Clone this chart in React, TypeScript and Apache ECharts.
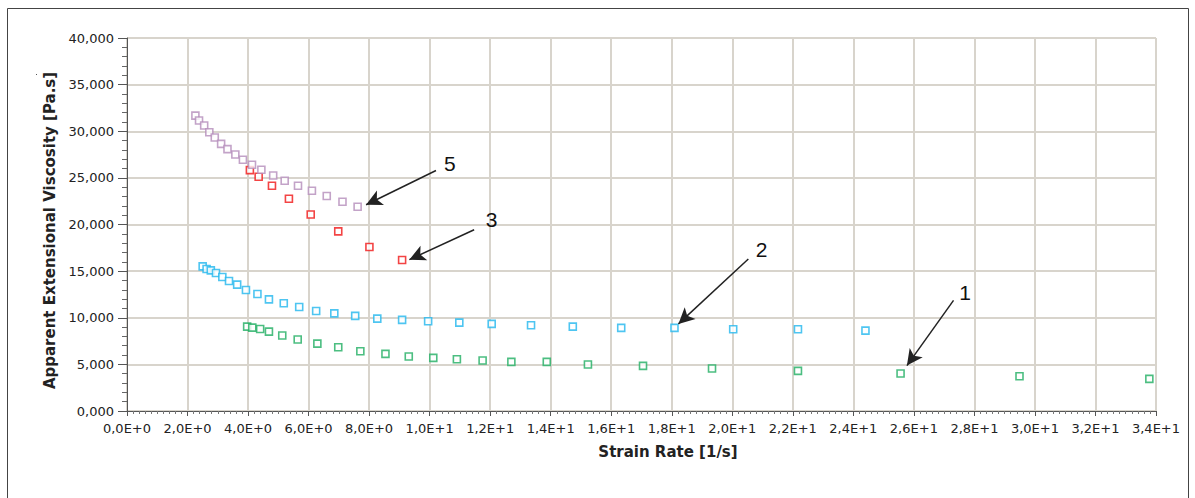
import React, { useEffect, useRef } from "react";
import * as echarts from "echarts";

// Tick labels
const xTickLabels = ["0,0E+0","2,0E+0","4,0E+0","6,0E+0","8,0E+0","1,0E+1","1,2E+1","1,4E+1","1,6E+1","1,8E+1","2,0E+1","2,2E+1","2,4E+1","2,6E+1","2,8E+1","3,0E+1","3,2E+1","3,4E+1"];
const yTickLabels = ["0,000","5,000","10,000","15,000","20,000","25,000","30,000","35,000","40,000"];

// Series 1 (green)
const s1x = [3.97,4.14,4.40,4.69,5.13,5.64,6.29,6.98,7.71,8.54,9.31,10.12,10.90,11.75,12.70,13.87,15.23,17.05,19.33,22.17,25.56,29.49,33.78];
const s1y = [9050,8940,8800,8510,8090,7660,7230,6830,6400,6130,5840,5700,5550,5410,5270,5270,4980,4840,4550,4300,4020,3730,3450];

// Series 2 (blue)
const s2x = [2.50,2.63,2.77,2.94,3.15,3.37,3.64,3.93,4.31,4.69,5.18,5.69,6.25,6.85,7.54,8.27,9.09,9.95,10.98,12.05,13.35,14.73,16.33,18.09,20.03,22.17,24.40];
const s2y = [15510,15230,15080,14800,14370,13940,13550,12980,12550,11970,11550,11160,10730,10470,10200,9910,9770,9620,9480,9340,9190,9050,8910,8910,8760,8760,8620];

// Series 3 (red)
const s3x = [4.06,4.35,4.79,5.35,6.07,6.98,8.01,9.09];
const s3y = [25830,25120,24150,22760,21080,19260,17590,16190];

// Series 5 (purple)
const s5x = [2.26,2.38,2.55,2.72,2.90,3.11,3.32,3.58,3.83,4.13,4.44,4.83,5.21,5.65,6.11,6.60,7.12,7.62];
const s5y = [31680,31150,30610,29900,29330,28650,28080,27500,26940,26400,25870,25260,24690,24150,23620,23050,22440,21900];

// Annotations: [label, labelX, labelY, fromX, fromY, toX, toY]
const ann1 = ["1", 27.69, 12720, 27.31, 11870, 25.77, 4870];
const ann2 = ["2", 20.97, 17300, 20.53, 16300, 18.22, 9340];
const ann3 = ["3", 12.05, 20510, 11.47, 19440, 9.33, 16230];
const ann5 = ["5", 10.67, 26510, 10.21, 25790, 7.90, 22120];

const zip = (xs: number[], ys: number[]) => xs.map((x, i) => [x, ys[i]]);

function makeSeries(name: string, color: string, xs: number[], ys: number[], ann: any[]) {
  return {
    name,
    type: "scatter",
    symbol: "rect",
    symbolSize: 7,
    itemStyle: { color: "#ffffff", borderColor: color, borderWidth: 1.6 },
    data: zip(xs, ys),
    z: 3,
    markLine: {
      silent: true,
      symbol: ["none", "arrow"],
      symbolSize: [12, 16],
      animation: false,
      label: { show: false },
      lineStyle: { color: "#222222", width: 1.5, type: "solid" },
      data: [[{ coord: [ann[3], ann[4]] }, { coord: [ann[5], ann[6]] }]],
    },
    markPoint: {
      silent: true,
      symbol: "circle",
      symbolSize: 1,
      itemStyle: { color: "rgba(0,0,0,0)" },
      label: {
        show: true,
        position: "inside",
        formatter: ann[0],
        color: "#111111",
        fontSize: 21,
        fontFamily: "Liberation Sans, Arial, sans-serif",
      },
      data: [{ coord: [ann[1], ann[2]] }],
    },
  };
}

export default function App() {
  const ref = useRef<HTMLDivElement>(null);
  useEffect(() => {
    if (!ref.current) return;
    const chart = echarts.init(ref.current, undefined, { renderer: "svg" });
    const font = "DejaVu Sans, Verdana, sans-serif";
    chart.setOption({
      animation: false,
      backgroundColor: "#ffffff",
      grid: { left: 127, top: 38, right: 39, bottom: 87, show: true, borderColor: "#666666", borderWidth: 1 },
      xAxis: {
        type: "value",
        min: 0,
        max: 34,
        interval: 2,
        name: "Strain Rate [1/s]",
        nameLocation: "middle",
        nameGap: 33,
        nameTextStyle: { fontFamily: font, fontSize: 15, fontWeight: "bold", color: "#222", padding: [0, 0, 0, 53] },
        axisLine: { show: true, lineStyle: { color: "#555555", width: 1 } },
        axisTick: { show: true, inside: false, length: 5, lineStyle: { color: "#555" } },
        minorTick: { show: true, splitNumber: 10, length: 3, lineStyle: { color: "#777" } },
        splitLine: { show: true, lineStyle: { color: "#d8d4cc", width: 2 } },
        axisLabel: {
          margin: 11,
          fontFamily: font,
          fontSize: 13,
          color: "#222",
          formatter: (_v: number, i: number) => xTickLabels[i] ?? "",
        },
      },
      yAxis: {
        type: "value",
        min: 0,
        max: 40000,
        interval: 5000,
        name: "Apparent Extensional Viscosity [Pa.s]",
        nameLocation: "middle",
        nameGap: 63,
        nameTextStyle: { fontFamily: font, fontSize: 15, fontWeight: "bold", color: "#222", padding: [0, 12, 0, 0] },
        axisLine: { show: true, lineStyle: { color: "#555555", width: 1 } },
        axisTick: { show: true, inside: false, length: 9, lineStyle: { color: "#555" } },
        minorTick: { show: true, splitNumber: 5, length: 5, lineStyle: { color: "#666" } },
        splitLine: { show: true, lineStyle: { color: "#d8d4cc", width: 2 } },
        axisLabel: {
          margin: 13,
          fontFamily: font,
          fontSize: 13,
          color: "#222",
          formatter: (_v: number, i: number) => yTickLabels[i] ?? "",
        },
      },
      graphic: [
        {
          type: "rect",
          shape: { x: 7.5, y: 8.5, width: 1181, height: 500 },
          style: { fill: "none", stroke: "#444444", lineWidth: 1 },
          silent: true,
        },
        {
          type: "rect",
          shape: { x: 36, y: 74, width: 1, height: 1 },
          style: { fill: "#555555" },
          silent: true,
        },
      ],
      series: [
        makeSeries("1", "#1fae62", s1x, s1y, ann1),
        makeSeries("2", "#22b6ee", s2x, s2y, ann2),
        makeSeries("3", "#f01515", s3x, s3y, ann3),
        makeSeries("5", "#b48cba", s5x, s5y, ann5),
      ],
    });
    return () => chart.dispose();
  }, []);
  return (
    <div
      ref={ref}
      style={{ position: "fixed", left: 0, top: 0, width: 1195, height: 498 }}
    />
  );
}
